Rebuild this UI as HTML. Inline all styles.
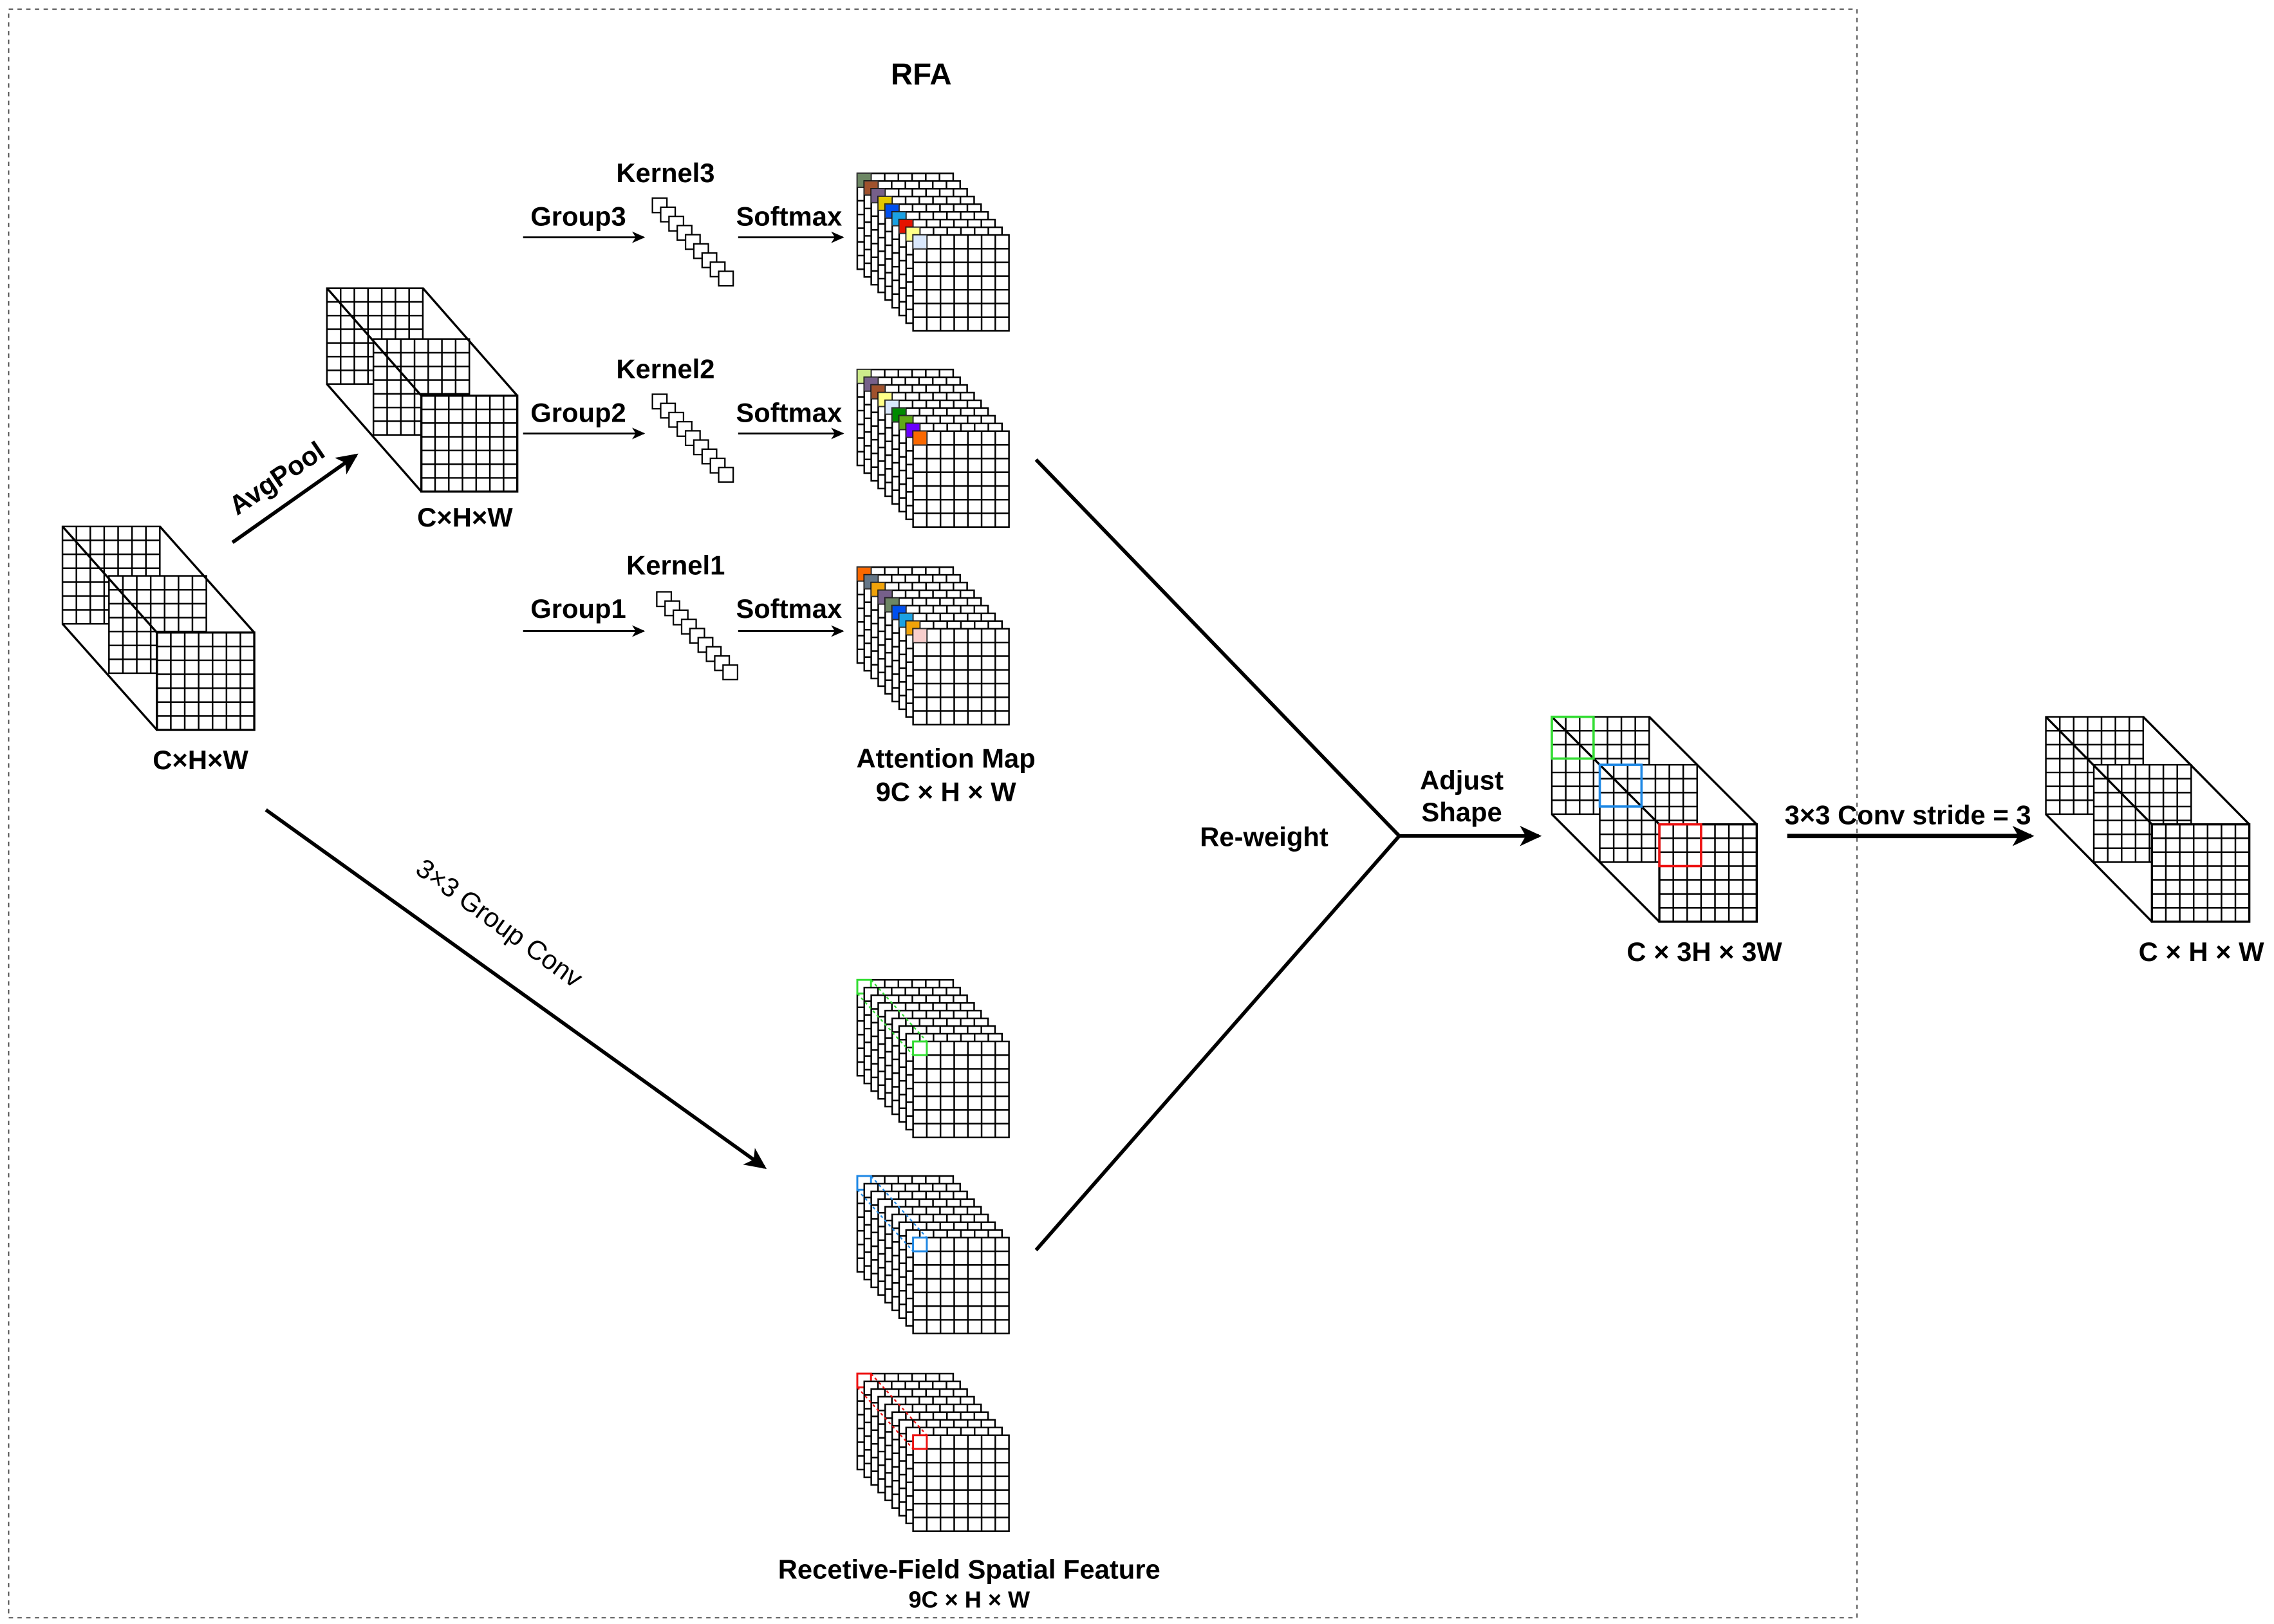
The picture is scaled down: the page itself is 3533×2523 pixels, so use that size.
<!DOCTYPE html>
<html><head><meta charset="utf-8"><style>
html,body{margin:0;padding:0;background:#fff;}
svg{display:block;}
text{font-family:"Liberation Sans",Arial,sans-serif;fill:#000;}
.b{font-weight:bold;font-size:18.5px;}
</style></head><body>
<svg id="s" xmlns="http://www.w3.org/2000/svg" width="3533" height="2523" viewBox="0 0 1565 1117">
<defs>
<marker id="ah" markerWidth="10" markerHeight="10" refX="8" refY="5" orient="auto" markerUnits="userSpaceOnUse">
<path d="M0,1 L9,5 L0,9 L2.5,5 Z" fill="#000"/>
</marker>
<marker id="ah2" markerWidth="16" markerHeight="16" refX="13" refY="8" orient="auto" markerUnits="userSpaceOnUse">
<path d="M0,1 L15,8 L0,15 L4,8 Z" fill="#000"/>
</marker>
</defs>
<rect x="6" y="6" width="1272" height="1107" fill="none" stroke="#444" stroke-width="0.8" stroke-dasharray="3,3"/>
<g id="shapes"></g>
<line x1="160" y1="373" x2="245" y2="313" stroke="#000" stroke-width="2.5" marker-end="url(#ah2)"/>
<line x1="183" y1="557" x2="526" y2="803" stroke="#000" stroke-width="2.5" marker-end="url(#ah2)"/>
<line x1="360" y1="163" x2="443" y2="163" stroke="#000" stroke-width="1.3" marker-end="url(#ah)"/>
<line x1="508" y1="163" x2="580" y2="163" stroke="#000" stroke-width="1.3" marker-end="url(#ah)"/>
<line x1="360" y1="298" x2="443" y2="298" stroke="#000" stroke-width="1.3" marker-end="url(#ah)"/>
<line x1="508" y1="298" x2="580" y2="298" stroke="#000" stroke-width="1.3" marker-end="url(#ah)"/>
<line x1="360" y1="434" x2="443" y2="434" stroke="#000" stroke-width="1.3" marker-end="url(#ah)"/>
<line x1="508" y1="434" x2="580" y2="434" stroke="#000" stroke-width="1.3" marker-end="url(#ah)"/>
<polyline points="713,316 963,575 713,860" fill="none" stroke="#000" stroke-width="2.5"/>
<line x1="963" y1="575" x2="1059" y2="575" stroke="#000" stroke-width="2.5" marker-end="url(#ah2)"/>
<line x1="1230" y1="575" x2="1398" y2="575" stroke="#000" stroke-width="3" marker-end="url(#ah2)"/>
<text x="634" y="58" class="b" text-anchor="middle" style="font-size:21px">RFA</text>
<text x="458" y="125" class="b" text-anchor="middle">Kernel3</text>
<text x="398" y="155" class="b" text-anchor="middle">Group3</text>
<text x="543" y="155" class="b" text-anchor="middle">Softmax</text>
<text x="458" y="260" class="b" text-anchor="middle">Kernel2</text>
<text x="398" y="290" class="b" text-anchor="middle">Group2</text>
<text x="543" y="290" class="b" text-anchor="middle">Softmax</text>
<text x="465" y="395" class="b" text-anchor="middle">Kernel1</text>
<text x="398" y="425" class="b" text-anchor="middle">Group1</text>
<text x="543" y="425" class="b" text-anchor="middle">Softmax</text>
<text x="320" y="362" class="b" text-anchor="middle">C×H×W</text>
<text x="138" y="529" class="b" text-anchor="middle">C×H×W</text>
<text x="651" y="528" class="b" text-anchor="middle">Attention Map</text>
<text x="651" y="551" class="b" text-anchor="middle">9C × H × W</text>
<text x="870" y="582" class="b" text-anchor="middle">Re-weight</text>
<text x="1006" y="543" class="b" text-anchor="middle">Adjust</text>
<text x="1006" y="565" class="b" text-anchor="middle">Shape</text>
<text x="1173" y="661" class="b" text-anchor="middle">C × 3H × 3W</text>
<text x="1313" y="567" class="b" text-anchor="middle">3×3 Conv stride = 3</text>
<text x="1515" y="661" class="b" text-anchor="middle">C × H × W</text>
<text x="667" y="1086" class="b" text-anchor="middle">Recetive-Field Spatial Feature</text>
<text x="667" y="1106" class="b" text-anchor="middle" style="font-size:16px">9C × H × W</text>
<text transform="translate(194,334) rotate(-34)" class="b" text-anchor="middle">AvgPool</text>
<text transform="translate(340,640) rotate(36)" text-anchor="middle" style="font-size:18.5px">3×3 Group Conv</text>
</svg>
<script>
(function(){
var g=document.getElementById('shapes'),out='';
function grid(x,y,w,h,c,r,sw,fill){
 var s='<rect x="'+x+'" y="'+y+'" width="'+w+'" height="'+h+'" fill="'+(fill||'#fff')+'" stroke="#000" stroke-width="'+sw+'"/>';
 var d='';
 for(var i=1;i<c;i++){var xx=x+w*i/c;d+='M'+xx+' '+y+'V'+(y+h);}
 for(var j=1;j<r;j++){var yy=y+h*j/r;d+='M'+x+' '+yy+'H'+(x+w);}
 s+='<path d="'+d+'" stroke="#000" stroke-width="'+sw+'" fill="none"/>';
 return s;
}
function cube(bx,by,s,o1x,o1y,o2x,o2y,boxes){
 var r='';
 r+=grid(bx,by,s,s,7,7,1.1);
 r+=grid(bx+o1x,by+o1y,s,s,7,7,1.1);
 r+=grid(bx+o2x,by+o2y,s,s,7,7,1.1);
 var L='stroke="#000" stroke-width="1.5"';
 r+='<line x1="'+bx+'" y1="'+by+'" x2="'+(bx+o2x)+'" y2="'+(by+o2y)+'" '+L+'/>';
 r+='<line x1="'+(bx+s)+'" y1="'+by+'" x2="'+(bx+o2x+s)+'" y2="'+(by+o2y)+'" '+L+'/>';
 r+='<line x1="'+bx+'" y1="'+(by+s)+'" x2="'+(bx+o2x)+'" y2="'+(by+o2y+s)+'" '+L+'/>';
 r+='<rect x="'+(bx+o2x)+'" y="'+(by+o2y)+'" width="'+s+'" height="'+s+'" fill="none" '+L+'/>';
 if(boxes){var c=s*3/7;
  r+='<rect x="'+bx+'" y="'+by+'" width="'+c+'" height="'+c+'" fill="none" stroke="#33dd33" stroke-width="1.6"/>';
  r+='<rect x="'+(bx+o1x)+'" y="'+(by+o1y)+'" width="'+c+'" height="'+c+'" fill="none" stroke="#1e88e5" stroke-width="1.6"/>';
  r+='<rect x="'+(bx+o2x)+'" y="'+(by+o2y)+'" width="'+c+'" height="'+c+'" fill="none" stroke="#ee1111" stroke-width="1.6"/>';
 }
 return r;
}
function stack(bx,by,colors,outline){
 var r='',s=66,c=s/7;
 for(var i=0;i<9;i++){
  var x=bx+4.8*i,y=by+5.3*i;
  r+=grid(x,y,s,s,7,7,1.1);
  if(colors) r+='<rect x="'+x+'" y="'+y+'" width="'+c+'" height="'+c+'" fill="'+colors[i]+'" stroke="#333" stroke-width="0.6"/>';
  if(outline && (i==0||i==8)) r+='<rect x="'+x+'" y="'+y+'" width="'+c+'" height="'+c+'" fill="none" stroke="'+outline+'" stroke-width="1.3"/>';
 }
 if(outline){
  r+='<line x1="'+bx+'" y1="'+(by+c)+'" x2="'+(bx+38.4)+'" y2="'+(by+42.4+c)+'" stroke="'+outline+'" stroke-width="1" stroke-dasharray="2,2"/>';
  r+='<line x1="'+(bx+c)+'" y1="'+by+'" x2="'+(bx+38.4+c)+'" y2="'+(by+42.4)+'" stroke="'+outline+'" stroke-width="1" stroke-dasharray="2,2"/>';
 }
 return r;
}
function kern(x,y){
 var r='';
 for(var i=0;i<9;i++) r+='<rect x="'+(x+5.7*i)+'" y="'+(y+6.3*i)+'" width="10" height="10" fill="#fff" stroke="#000" stroke-width="1"/>';
 return r;
}
out+=cube(43,362,67,32,34,65,73,false);
out+=cube(225,198,66,32,35,65,74,false);
out+=cube(1068,493,67,33,33,74,74,true);
out+=cube(1408,493,67,33,33,73,74,false);
out+=kern(449,136);out+=kern(449,271);out+=kern(452,407);
out+=stack(590,119,['#6d8764','#a0522d','#76608a','#e3c800','#0050ef','#1ba1e2','#e51400','#ffff88','#dae8fc']);
out+=stack(590,254,['#cdeb8b','#76608a','#a0522d','#ffff88','#dae8fc','#008a00','#60a917','#6a00ff','#fa6800']);
out+=stack(590,390,['#fa6800','#647687','#f0a30a','#76608a','#6d8764','#0050ef','#1ba1e2','#f0a30a','#f8cecc']);
out+=stack(590,674,null,'#33dd33');
out+=stack(590,809,null,'#1e88e5');
out+=stack(590,945,null,'#ee1111');
g.innerHTML=out;
})();
</script>
</body></html>
